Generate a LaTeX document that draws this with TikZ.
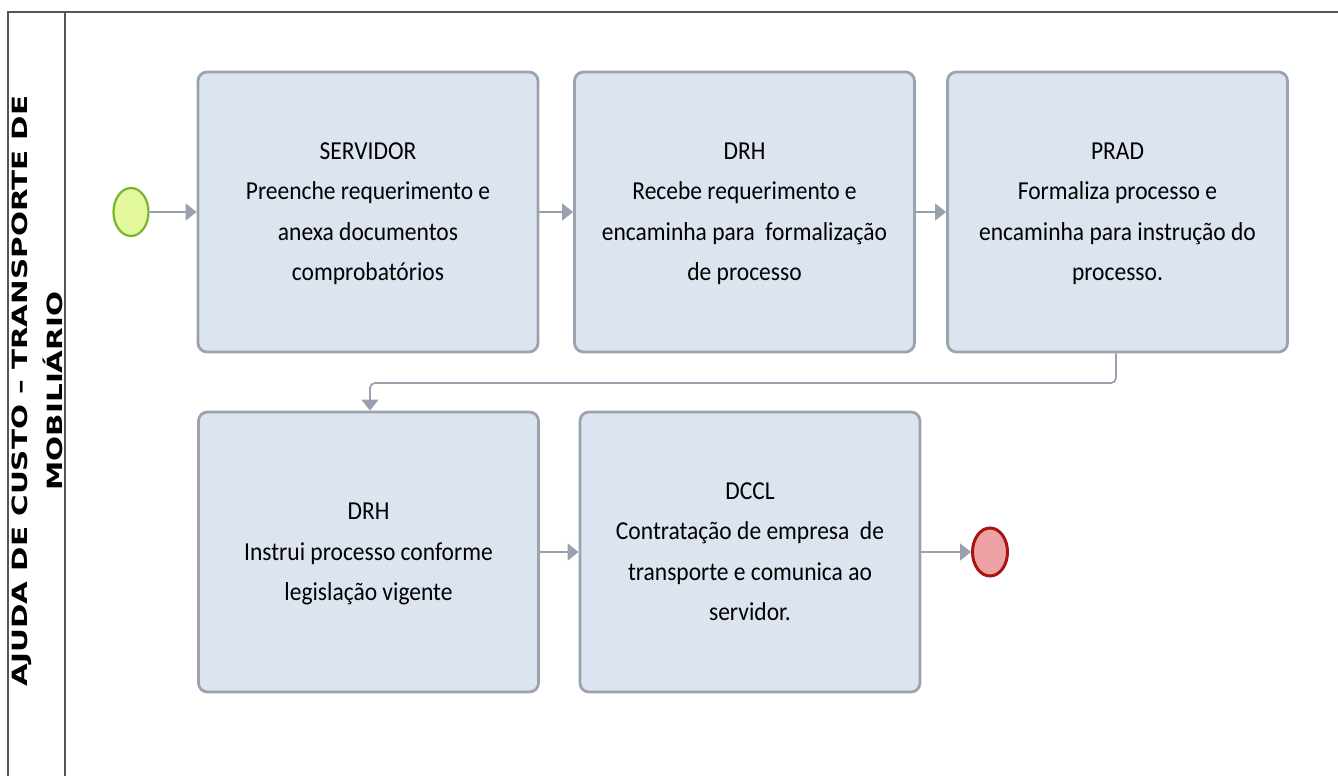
\documentclass[tikz,border=0pt]{standalone}
\usepackage{fontspec}
\setmainfont{Carlito}
\newfontfamily\lanefont{DejaVu Sans}
\usetikzlibrary{shapes.geometric,arrows.meta}
\definecolor{boxfill}{HTML}{DCE4F0}
\definecolor{boxline}{HTML}{9AA3AF}
\definecolor{conn}{HTML}{98A1AD}
\definecolor{startfill}{HTML}{E4F89E}
\definecolor{startline}{HTML}{78B52E}
\definecolor{endfill}{HTML}{EDA3A5}
\definecolor{endline}{HTML}{A81414}
\definecolor{frame}{HTML}{555555}
\newcommand\boxtext[1]{\scalebox{1}[1.1]{\begin{tabular}{@{}c@{}}#1\end{tabular}}}
\begin{document}
\begin{tikzpicture}[x=1pt,y=-1pt,
  task/.style={draw=boxline, fill=boxfill, line width=2.8pt, rounded corners=9pt,
    minimum width=340pt, minimum height=280pt, align=center, text=black,
    font=\fontsize{23.5}{36.4}\selectfont, inner sep=0pt},
  startev/.style={ellipse, draw=startline, fill=startfill, line width=2.2pt,
    minimum width=35pt, minimum height=48pt, inner sep=0pt},
  endev/.style={ellipse, draw=endline, fill=endfill, line width=3pt,
    minimum width=35pt, minimum height=48pt, inner sep=0pt},
  flow/.style={draw=conn, line width=1.8pt, -{Triangle[length=11pt,width=17pt]}},
  lane/.style={draw=frame, line width=1.5pt}]
\useasboundingbox (0,0) rectangle (1338,776);
% pool frame
\draw[lane] (8,776) -- (8,12) -- (1338,12);
\draw[lane] (65,12) -- (65,776);
\node[rotate=90, align=center, font=\lanefont\bfseries\fontsize{21}{35}\selectfont] (lbl) at (37,391)
  {\scalebox{1.4}[1]{AJUDA DE CUSTO – TRANSPORTE DE}\\ \scalebox{1.4}[1]{MOBILIÁRIO}};
% events
\node[startev] (start) at (131,212) {};
\node[endev] (end) at (990,552) {};
% tasks
\node[task] (t1) at (368,212) {\boxtext{SERVIDOR\\Preenche requerimento e\\anexa documentos\\comprobatórios}};
\node[task] (t2) at (744.5,212) {\boxtext{DRH\\Recebe requerimento e\\encaminha para~ formalização\\de processo}};
\node[task] (t3) at (1117.5,212) {\boxtext{PRAD\\Formaliza processo e\\encaminha para instrução do\\processo.}};
\node[task] (t4) at (368.5,552) {\boxtext{DRH\\Instrui processo conforme\\legislação vigente}};
\node[task] (t5) at (750,552) {\boxtext{DCCL\\Contratação de empresa~ de\\transporte e comunica ao\\servidor.}};
% flows
\draw[flow] (start) -- (t1);
\draw[flow] (t1) -- (t2);
\draw[flow] (t2) -- (t3);
\coordinate (c1) at (1116,383);
\coordinate (c2) at (370,383);
\draw[flow, rounded corners=5pt] (t3.south -| c1) -- (c1) -- (c2) -- (t4.north -| c2);
\draw[flow] (t4) -- (t5);
\draw[flow] (t5) -- (end);
\end{tikzpicture}
\end{document}
